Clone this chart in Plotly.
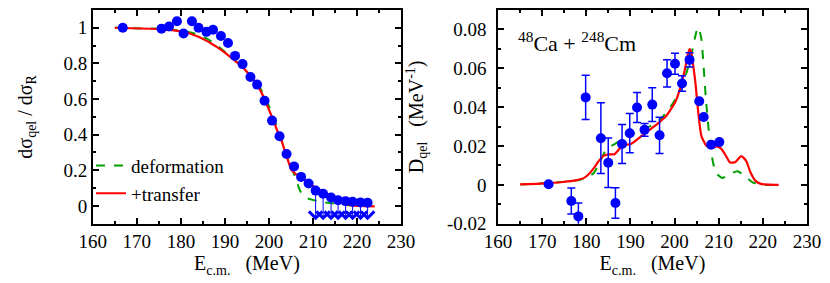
import plotly.graph_objects as go

# ---------------- data: left panel (quasi-elastic ratio) ----------------
exp_E = [166.8, 175.6, 177.3, 179.1, 180.6, 182.5, 184.0, 185.8, 187.3, 189.1,
         190.7, 192.3, 194.0, 195.8, 197.3, 199.0, 200.7, 202.4, 204.0, 205.7,
         207.3, 209.0, 210.6, 212.3, 214.1, 215.7, 217.4, 219.0, 220.8, 222.4]
exp_ratio = [1.0, 0.995, 1.007, 1.036, 0.968, 1.036, 1.0, 0.977, 0.989, 0.954,
             0.914, 0.842, 0.796, 0.724, 0.681, 0.590, 0.479, 0.391, 0.292, 0.222,
             0.163, 0.126, 0.086, 0.068, 0.047, 0.032, 0.027, 0.024, 0.020, 0.018]
upper_limit_start = 22      # index from which points are upper limits (arrows)
arrow_floor = -0.08

transfer_E = [165.0, 170.0, 175.0, 178.0, 180.0, 182.0, 184.0, 186.0, 188.0, 190.0,
              192.0, 194.0, 196.0, 197.0, 198.0, 199.0, 200.0, 201.0, 202.0, 203.0,
              204.0, 204.5, 205.0, 206.0, 207.0, 208.0, 209.0, 210.0, 211.0, 212.0,
              213.0, 214.0, 215.0, 216.0, 217.0, 218.0, 219.0, 220.0, 222.0, 224.0]
transfer_ratio = [1.0, 0.998, 0.993, 0.987, 0.98, 0.968, 0.95, 0.925, 0.895, 0.86,
                  0.82, 0.78, 0.725, 0.69, 0.65, 0.60, 0.545, 0.48, 0.415, 0.355,
                  0.28, 0.24, 0.205, 0.18, 0.163, 0.145, 0.127, 0.11, 0.095, 0.083,
                  0.07, 0.058, 0.046, 0.032, 0.018, 0.007, 0.002, 0.0, -0.001, -0.002]

deform_E = [165.0, 170.0, 175.0, 178.0, 180.0, 182.0, 184.0, 186.0, 188.0, 190.0,
            192.0, 194.0, 196.0, 198.0, 199.0, 200.0, 201.0, 202.0, 203.0, 204.0,
            204.5, 205.0, 205.5, 206.0, 206.5, 207.0, 207.5, 208.0, 209.0, 210.0,
            211.0, 212.0, 214.0, 216.0, 218.0, 220.0, 222.0, 224.0]
deform_ratio = [1.0, 0.998, 0.994, 0.989, 0.983, 0.975, 0.962, 0.938, 0.905, 0.865,
                0.823, 0.778, 0.727, 0.663, 0.615, 0.56, 0.497, 0.433, 0.37, 0.3,
                0.262, 0.225, 0.19, 0.15, 0.115, 0.088, 0.068, 0.055, 0.04, 0.032,
                0.027, 0.022, 0.015, 0.009, 0.004, 0.001, 0.0, 0.0]

# ---------------- data: right panel (barrier distribution) ----------------
dist_E = [171.45, 176.6, 178.2, 179.85, 183.3, 184.97, 186.6, 188.1, 189.85, 191.5,
          193.2, 194.95, 196.6, 198.3, 200.1, 201.7, 203.4, 205.6, 206.6, 208.3, 210.15]
dist_D = [0.0003, -0.0083, -0.0162, 0.045, 0.024, 0.0114, -0.0093, 0.021, 0.0266, 0.0398,
          0.0283, 0.0413, 0.0255, 0.0574, 0.0623, 0.0522, 0.0643, 0.043, 0.0349, 0.0207, 0.022]
dist_err = [0.0, 0.0067, 0.0069, 0.0114, 0.0182, 0.0127, 0.0078, 0.010, 0.0101, 0.0077,
            0.0033, 0.0087, 0.0093, 0.007, 0.0054, 0.004, 0.0037, 0.0, 0.0, 0.0, 0.0]

dtr_E = [165.0, 169.6, 174.7, 177.6, 179.5, 180.6, 181.7, 182.8, 183.9, 185.0,
         186.4, 187.5, 188.6, 190.1, 193.0, 195.9, 198.1, 200.3, 201.7, 202.4,
         202.9, 203.4, 203.8, 204.2, 204.7, 205.4, 206.1, 207.2, 208.3, 209.5,
         210.5, 211.5, 212.6, 213.8, 215.1, 216.2, 217.2, 218.3, 219.6, 221.5, 223.6]
dtr_D = [0.0003, 0.0007, 0.0015, 0.0023, 0.0036, 0.0056, 0.0086, 0.0122, 0.0149, 0.0157,
         0.0158, 0.0185, 0.0205, 0.021, 0.026, 0.031, 0.0354, 0.0433, 0.0532, 0.060,
         0.066, 0.0698, 0.068, 0.062, 0.0532, 0.0367, 0.0251, 0.0202, 0.019, 0.0198,
         0.0188, 0.0155, 0.0115, 0.0118, 0.0148, 0.0125, 0.0065, 0.0022, 0.0005, 0.0001, 0.0]

ddef_E = [165.1, 170.0, 177.0, 179.85, 181.7, 183.1, 184.6, 186.4, 189.35, 193.0,
          196.6, 199.55, 201.7, 203.6, 204.7, 205.25, 205.7, 206.1, 207.2, 208.3,
          209.4, 210.9, 212.35, 214.2, 215.6, 217.8, 220.7, 223.6]
ddef_D = [0.0002, 0.0008, 0.002, 0.0036, 0.0061, 0.0119, 0.0185, 0.021, 0.0251, 0.0284,
          0.0334, 0.0417, 0.0507, 0.0648, 0.0764, 0.081, 0.079, 0.0747, 0.0417, 0.0169,
          0.0061, 0.0036, 0.0053, 0.007, 0.0053, 0.0012, 0.0, 0.0]

x_ticks = [160, 170, 180, 190, 200, 210, 220, 230]
left_y_ticks = [0, 0.2, 0.4, 0.6, 0.8, 1]
right_y_ticks = [-0.02, 0, 0.02, 0.04, 0.06, 0.08]

BLUE = "#0000ff"
RED = "#ff0000"
GREEN = "#00a000"
FONT = "Liberation Serif, Times New Roman, serif"

fig = go.Figure()

# left panel
fig.add_trace(go.Scatter(x=deform_E, y=deform_ratio, mode="lines", name="deformation",
                         line=dict(color=GREEN, width=2, dash="dash"), xaxis="x", yaxis="y"))
fig.add_trace(go.Scatter(x=transfer_E, y=transfer_ratio, mode="lines", name="+transfer",
                         line=dict(color=RED, width=2.2), xaxis="x", yaxis="y"))
fig.add_trace(go.Scatter(x=exp_E, y=exp_ratio, mode="markers", showlegend=False,
                         marker=dict(color=BLUE, size=10), xaxis="x", yaxis="y"))

# right panel
fig.add_trace(go.Scatter(x=ddef_E, y=ddef_D, mode="lines", showlegend=False,
                         line=dict(color=GREEN, width=2, dash="dash", shape="spline", smoothing=0.6),
                         xaxis="x2", yaxis="y2"))
fig.add_trace(go.Scatter(x=dtr_E, y=dtr_D, mode="lines", showlegend=False,
                         line=dict(color=RED, width=2.2, shape="spline", smoothing=0.6),
                         xaxis="x2", yaxis="y2"))
fig.add_trace(go.Scatter(x=dist_E, y=dist_D, mode="markers", showlegend=False,
                         marker=dict(color=BLUE, size=10),
                         error_y=dict(type="data", array=dist_err, visible=True,
                                      color=BLUE, thickness=1.5, width=4),
                         xaxis="x2", yaxis="y2"))

annotations = []
for xi, yi in zip(exp_E[upper_limit_start:], exp_ratio[upper_limit_start:]):
    annotations.append(dict(x=xi, y=arrow_floor, ax=xi, ay=yi, xref="x", yref="y",
                            axref="x", ayref="y", showarrow=True, arrowhead=4,
                            arrowsize=2.6, arrowwidth=1.0, arrowcolor=BLUE, text=""))
annotations.append(dict(x=178.0, y=0.0735, xref="x2", yref="y2", showarrow=False,
                        text="<sup>48</sup>Ca + <sup>248</sup>Cm",
                        font=dict(family=FONT, size=22, color="black"), xanchor="center",
                        yanchor="middle"))

axis_common = dict(showline=True, linecolor="black", linewidth=1.5, mirror="allticks",
                   ticks="inside", ticklen=6, tickwidth=1.5, tickcolor="black",
                   showgrid=False, zeroline=False,
                   tickfont=dict(family=FONT, size=19, color="black"))

fig.update_layout(
    width=830, height=283, margin=dict(l=0, r=0, t=0, b=0),
    paper_bgcolor="white", plot_bgcolor="white",
    font=dict(family=FONT, color="black"),
    showlegend=True,
    legend=dict(x=0.086, y=0.49, xanchor="left", yanchor="top", bgcolor="rgba(0,0,0,0)",
                font=dict(family=FONT, size=19, color="black"), tracegroupgap=0,
                itemwidth=30),
    annotations=annotations,
    xaxis=dict(domain=[73.3 / 830, 392.3 / 830], range=[160, 230], tickvals=x_ticks,
               minor=dict(ticks="inside", dtick=5, ticklen=3, tickwidth=1.5, tickcolor="black"),
               title=dict(text="E<sub>c.m.</sub>   (MeV)", font=dict(family=FONT, size=20),
                          standoff=4),
               anchor="y", **axis_common),
    yaxis=dict(domain=[1 - 224.5 / 283, 1 - 2 / 283], range=[-0.1, 1.1], tickvals=left_y_ticks,
               ticktext=["0", "0.2", "0.4", "0.6", "0.8", "1"],
               minor=dict(ticks="inside", dtick=0.1, tick0=0, ticklen=3, tickwidth=1.5,
                          tickcolor="black"),
               title=dict(text="dσ<sub>qel</sub> / dσ<sub>R</sub>", font=dict(family=FONT, size=20),
                          standoff=26),
               anchor="x", **axis_common),
    xaxis2=dict(domain=[492.7 / 830, 812.3 / 830], range=[160, 230], tickvals=x_ticks,
                minor=dict(ticks="inside", dtick=5, ticklen=3, tickwidth=1.5, tickcolor="black"),
                title=dict(text="E<sub>c.m.</sub>   (MeV)", font=dict(family=FONT, size=20),
                           standoff=4),
                anchor="y2", **axis_common),
    yaxis2=dict(domain=[1 - 224.5 / 283, 1 - 2 / 283], range=[-0.02, 0.09], tickvals=right_y_ticks,
                ticktext=["-0.02", "0", "0.02", "0.04", "0.06", "0.08"],
                ticklabelstandoff=6,
                minor=dict(ticks="inside", dtick=0.01, tick0=0, ticklen=3, tickwidth=1.5,
                           tickcolor="black"),
                title=dict(text="D<sub>qel</sub>   (MeV<sup>-1</sup>)", font=dict(family=FONT, size=20),
                           standoff=18),
                anchor="x2", **axis_common),
)

fig.write_html("out.html")
